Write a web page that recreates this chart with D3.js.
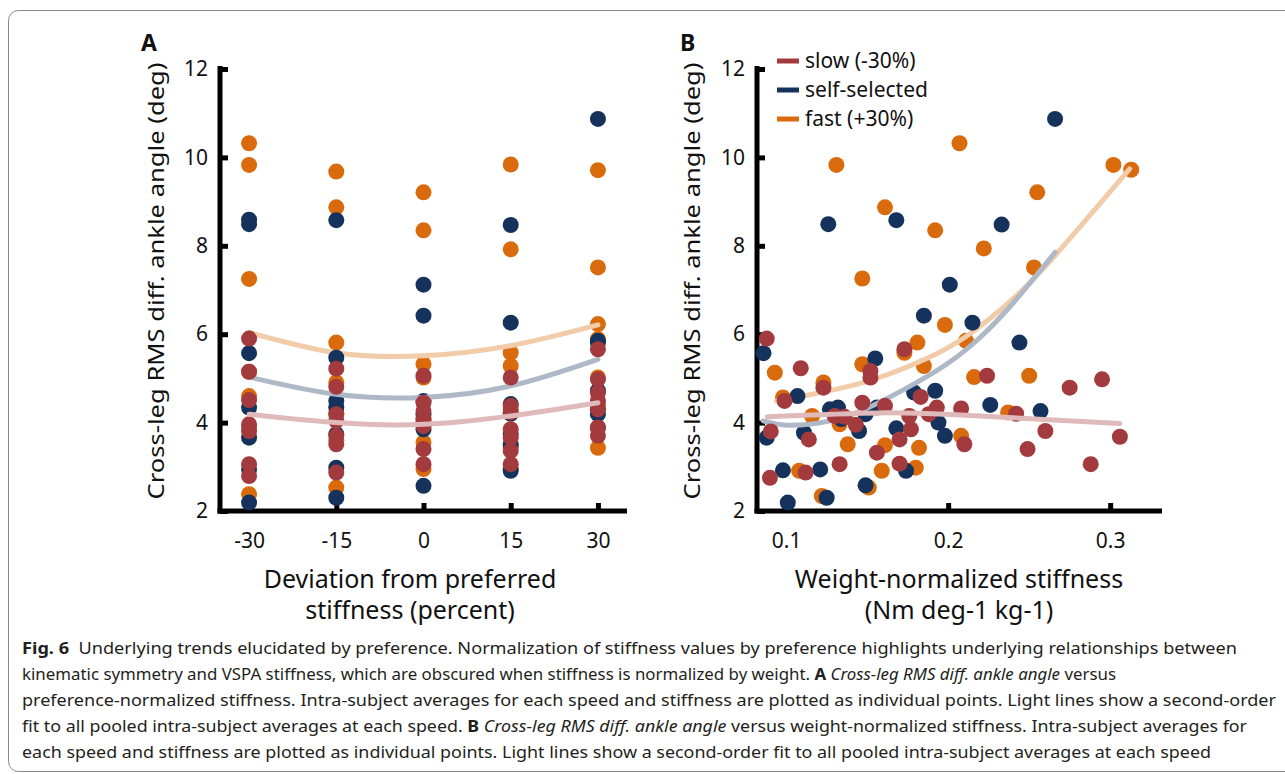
<!DOCTYPE html>
<html>
<head>
<meta charset="utf-8">
<script src="https://cdn.jsdelivr.net/npm/d3@7"></script>
<style>
body { margin: 0; background: #fff; }
text { font-family: "Noto Sans", sans-serif; fill: #111; }
</style>
</head>
<body>
<div id="fig"></div>
<script>
var speeds = ["slow (-30%)", "self-selected", "fast (+30%)"];
var dotColors = ["#a33b3e", "#15325c", "#d96b0c"];
var fitColors = ["#e0b9bb", "#aeb8c7", "#f2cba9"];
var yTicks = [2, 4, 6, 8, 10, 12];
var pctTicks = [-30, -15, 0, 15, 30];
var wTicks = [0.1, 0.2, 0.3];

// Panel A: one row per preference-normalized stiffness level (-30 .. 30)
var slowA = [
    [5.90, 5.15, 4.51, 3.96, 3.81, 3.06, 2.79],
    [5.22, 4.81, 4.19, 4.04, 3.70, 3.51, 2.87],
    [5.06, 4.45, 4.26, 4.08, 3.92, 3.40, 3.06],
    [5.02, 4.38, 4.23, 3.85, 3.66, 3.36, 3.06],
    [5.66, 4.98, 4.68, 4.49, 4.30, 3.89, 3.70]
];
var selfA = [
    [8.59, 8.49, 5.57, 4.34, 3.66, 2.94, 2.19],
    [8.58, 5.47, 4.49, 4.34, 3.74, 2.98, 2.30],
    [7.12, 6.42, 4.49, 4.19, 3.85, 2.57, 4.00],
    [8.47, 6.26, 4.42, 3.74, 2.91, 4.20, 3.50],
    [10.87, 5.85, 5.81, 4.72, 4.30, 4.19, 3.89]
];
var fastA = [
    [10.32, 9.83, 7.25, 5.15, 4.60, 3.90, 2.38],
    [9.68, 8.87, 5.81, 4.91, 4.20, 3.60, 2.53],
    [9.21, 8.35, 5.32, 5.02, 4.10, 3.55, 2.95],
    [9.84, 7.92, 5.58, 5.28, 4.30, 3.45, 2.95],
    [9.71, 7.51, 6.23, 5.89, 5.02, 4.40, 3.43]
];
// second-order fits, read at each stiffness level
var fitSlowA = [4.19, 4.00, 3.96, 4.15, 4.45];
var fitSelfA = [5.03, 4.64, 4.57, 4.83, 5.43];
var fitFastA = [6.04, 5.58, 5.51, 5.74, 6.21];

// Panel B: [weight-normalized stiffness, RMS diff]
var slowB = [[0.088,5.90],[0.090,2.75],[0.0905,3.80],[0.099,4.49],[0.109,5.23],[0.112,2.87],[0.114,3.62],
    [0.123,4.79],[0.130,4.15],[0.133,3.06],[0.136,4.13],[0.143,3.95],[0.147,4.45],[0.152,5.17],[0.152,5.02],
    [0.156,3.32],[0.161,4.38],[0.170,3.62],[0.170,3.07],[0.173,5.66],[0.176,4.15],[0.177,3.85],[0.183,4.58],
    [0.188,4.19],[0.193,4.34],[0.208,4.32],[0.210,3.51],[0.224,5.06],[0.242,4.20],[0.249,3.40],[0.260,3.81],
    [0.275,4.79],[0.288,3.06],[0.295,4.98],[0.306,3.68]];
var selfB = [[0.086,5.57],[0.088,3.66],[0.098,2.92],[0.101,2.19],[0.107,4.60],[0.111,3.77],[0.121,2.94],
    [0.125,2.30],[0.126,8.49],[0.127,4.30],[0.132,4.34],[0.134,4.08],[0.145,3.81],[0.149,4.19],[0.149,2.58],
    [0.155,5.45],[0.156,4.34],[0.168,8.58],[0.168,3.87],[0.174,2.91],[0.179,4.68],[0.185,6.42],[0.192,4.72],
    [0.194,4.00],[0.198,3.70],[0.201,7.12],[0.215,6.26],[0.226,4.40],[0.233,8.48],[0.244,5.81],[0.257,4.26],
    [0.266,10.87]];
var fastB = [[0.093,5.13],[0.098,4.57],[0.108,2.91],[0.116,4.15],[0.122,2.34],[0.123,4.91],[0.131,9.83],
    [0.133,3.96],[0.138,3.51],[0.147,7.26],[0.147,5.32],[0.151,2.53],[0.159,2.91],[0.161,3.49],[0.161,8.87],
    [0.173,5.58],[0.180,2.98],[0.181,5.81],[0.182,3.43],[0.185,5.28],[0.192,8.35],[0.198,6.21],[0.207,10.32],
    [0.208,3.70],[0.211,5.85],[0.216,5.03],[0.222,7.94],[0.237,4.23],[0.250,5.06],[0.253,7.51],[0.255,9.21],
    [0.302,9.83],[0.313,9.72]];
var fitSlowB = [[0.0884,4.13],[0.158,4.22],[0.2195,4.15],[0.306,3.98]];
var fitSelfB = [[0.0858,4.04],[0.102,3.94],[0.127,4.04],[0.1496,4.32],[0.1743,4.78],[0.199,5.32],
    [0.2195,5.92],[0.240,6.70],[0.266,7.85]];
var fitFastB = [[0.094,4.49],[0.147,4.90],[0.185,5.42],[0.2115,5.96],[0.240,6.80],[0.266,7.78],[0.312,9.74]];

var W = 1285, H = 774, rad = 8;

var svg = d3.select("#fig").append("svg")
    .attr("width", W)
    .attr("height", H);

// figure frame
svg.append("rect")
    .attr("x", 8.5).attr("y", 10.5)
    .attr("width", 1300).attr("height", 761)
    .attr("rx", 10)
    .attr("fill", "none")
    .attr("stroke", "#8a8a8a")
    .attr("stroke-width", 1);

var yA = d3.scaleLinear().domain([2, 12]).range([511, 69]);
var xA = d3.scaleLinear().domain([-35, 35]).range([220, 627]);
var xB = d3.scaleLinear().domain([0.082, 0.332]).range([757, 1162]);
var yB = yA;

function axes(g, x, y, ticks, fmt) {
    var x0 = x.range()[0], x1 = x.range()[1], yb = y(2);
    var ax = g.append("g")
        .attr("transform", "translate(0," + yb + ")")
        .call(d3.axisBottom(x).tickValues(ticks).tickFormat(fmt)
            .tickSize(-8).tickSizeOuter(0).tickPadding(22));
    var ay = g.append("g")
        .attr("transform", "translate(" + x0 + ",0)")
        .call(d3.axisLeft(y).tickValues(yTicks)
            .tickSize(-8).tickSizeOuter(0).tickPadding(12));
    [ax, ay].forEach(function(a) {
        a.select(".domain").remove();
        a.selectAll(".tick line").attr("stroke", "#000").attr("stroke-width", 5);
        a.selectAll(".tick text")
            .attr("fill", "#111")
            .style("font-family", "'Noto Sans', sans-serif")
            .style("font-size", "21px");
    });
    g.append("line")
        .attr("x1", x0).attr("x2", x0)
        .attr("y1", 66).attr("y2", yb + 2.5)
        .attr("stroke", "#000").attr("stroke-width", 5);
    g.append("line")
        .attr("x1", x0 - 2.5).attr("x2", x1)
        .attr("y1", yb).attr("y2", yb)
        .attr("stroke", "#000").attr("stroke-width", 5);
}

function yTitle(g, cx) {
    g.append("text")
        .attr("transform", "translate(" + cx + ",281) rotate(-90)")
        .attr("dy", "0.35em")
        .attr("text-anchor", "middle")
        .attr("textLength", 437)
        .attr("lengthAdjust", "spacingAndGlyphs")
        .style("font-size", "22px")
        .text("Cross-leg RMS diff. ankle angle (deg)");
}

function fitLine(g, pts, x, y, col) {
    g.append("path")
        .datum(pts)
        .attr("fill", "none")
        .attr("stroke", col)
        .attr("stroke-width", 5)
        .attr("stroke-linecap", "round")
        .attr("d", d3.line()
            .x(function(d) { return x(d[0]); })
            .y(function(d) { return y(d[1]); })
            .curve(d3.curveNatural));
}

function dots(g, pts, x, y, col) {
    g.append("g")
        .selectAll("circle")
        .data(pts).enter()
        .append("circle")
        .attr("cx", function(d) { return x(d[0]); })
        .attr("cy", function(d) { return y(d[1]); })
        .attr("r", rad)
        .attr("fill", col);
}

// ---------- panel A ----------
var gA = svg.append("g");
axes(gA, xA, yA, pctTicks, function(d) { return String(d); });
yTitle(gA, 156);

var seriesA = [slowA, selfA, fastA];
var fitsA = [fitSlowA, fitSelfA, fitFastA];
[2, 1, 0].forEach(function(s) {
    var pts = [];
    seriesA[s].forEach(function(row, i) {
        row.forEach(function(v) { pts.push([pctTicks[i], v]); });
    });
    dots(gA, pts, xA, yA, dotColors[s]);
    fitLine(gA, fitsA[s].map(function(v, i) { return [pctTicks[i], v]; }), xA, yA, fitColors[s]);
});

gA.append("text").attr("x", 410).attr("y", 588).attr("text-anchor", "middle")
    .style("font-size", "25px").text("Deviation from preferred");
gA.append("text").attr("x", 410).attr("y", 619).attr("text-anchor", "middle")
    .style("font-size", "25px").text("stiffness (percent)");
gA.append("text").attr("x", 141).attr("y", 51)
    .style("font-size", "23px").style("font-weight", "bold").text("A");

// ---------- panel B ----------
var gB = svg.append("g");
axes(gB, xB, yB, wTicks, d3.format(".1f"));
yTitle(gB, 692);

var seriesB = [slowB, selfB, fastB];
var fitsB = [fitSlowB, fitSelfB, fitFastB];
[2, 1, 0].forEach(function(s) {
    dots(gB, seriesB[s], xB, yB, dotColors[s]);
    fitLine(gB, fitsB[s], xB, yB, fitColors[s]);
});

gB.append("text").attr("x", 959).attr("y", 588).attr("text-anchor", "middle")
    .style("font-size", "25px").text("Weight-normalized stiffness");
gB.append("text").attr("x", 959).attr("y", 619).attr("text-anchor", "middle")
    .style("font-size", "25px").text("(Nm deg-1 kg-1)");
gB.append("text").attr("x", 680).attr("y", 51)
    .style("font-size", "23px").style("font-weight", "bold").text("B");

// legend
var leg = gB.append("g").selectAll("g")
    .data(speeds).enter()
    .append("g")
    .attr("transform", function(d, i) { return "translate(777," + (61 + i * 29) + ")"; });
leg.append("line")
    .attr("x1", 0).attr("x2", 22)
    .attr("stroke", function(d, i) { return dotColors[i]; })
    .attr("stroke-width", 5);
leg.append("text")
    .attr("x", 28).attr("dy", "0.35em")
    .style("font-size", "21px")
    .text(function(d) { return d; });

// ---------- caption ----------
var caption = [
    { w: 1215, parts: [["b", "Fig. 6"], ["", "  Underlying trends elucidated by preference. Normalization of stiffness values by preference highlights underlying relationships between"]] },
    { w: 1094, parts: [["", "kinematic symmetry and VSPA stiffness, which are obscured when stiffness is normalized by weight. "], ["b", "A"], ["", " "], ["i", "Cross-leg RMS diff. ankle angle"], ["", " versus"]] },
    { w: 1254, parts: [["", "preference-normalized stiffness. Intra-subject averages for each speed and stiffness are plotted as individual points. Light lines show a second-order"]] },
    { w: 1225, parts: [["", "fit to all pooled intra-subject averages at each speed. "], ["b", "B"], ["", " "], ["i", "Cross-leg RMS diff. ankle angle"], ["", " versus weight-normalized stiffness. Intra-subject averages for"]] },
    { w: 1189, parts: [["", "each speed and stiffness are plotted as individual points. Light lines show a second-order fit to all pooled intra-subject averages at each speed"]] }
];
caption.forEach(function(line, i) {
    var t = svg.append("text")
        .attr("x", 22).attr("y", 654 + i * 26)
        .attr("textLength", line.w)
        .attr("lengthAdjust", "spacingAndGlyphs")
        .attr("xml:space", "preserve")
        .style("font-size", "16px")
        .style("fill", "#231f20");
    line.parts.forEach(function(p) {
        t.append("tspan")
            .style("font-weight", p[0] === "b" ? "bold" : "normal")
            .style("font-style", p[0] === "i" ? "italic" : "normal")
            .style("fill", "#231f20")
            .text(p[1]);
    });
});
</script>
</body>
</html>
